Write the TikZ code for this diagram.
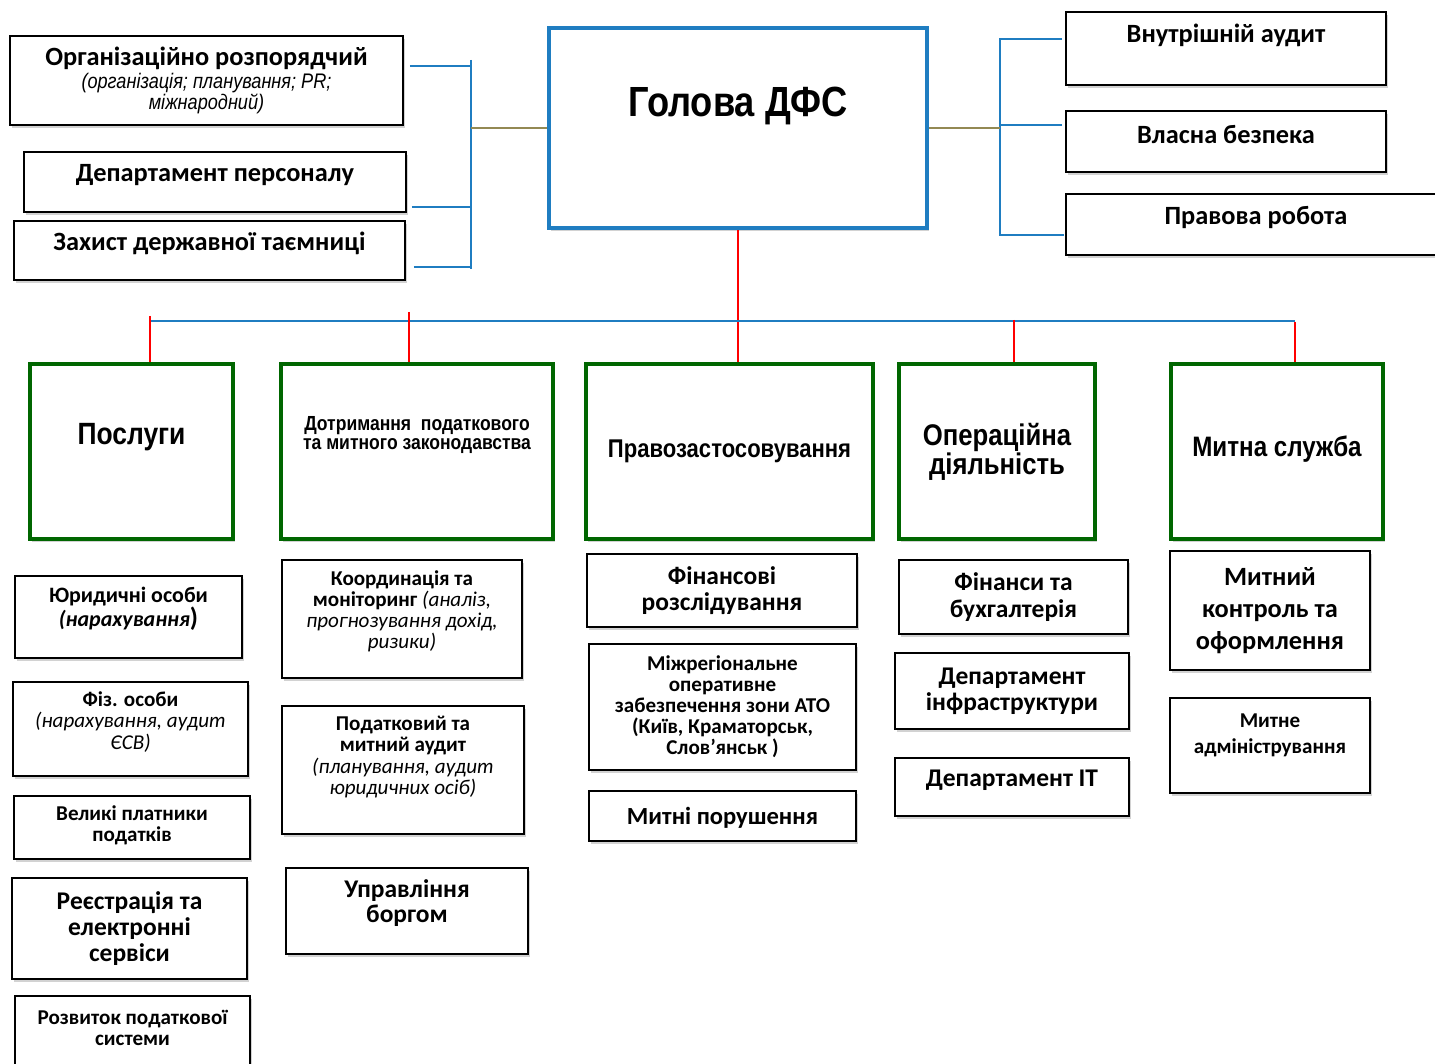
\documentclass[tikz,border=0pt]{standalone}
\usepackage{fontspec}
\setmainfont{Carlito}
\newfontfamily\narrow[FakeStretch=0.86]{Liberation Sans}
\usepackage{tikz}
\usetikzlibrary{shadows}
\definecolor{dfsblue}{RGB}{31,125,193}
\definecolor{dfsgreen}{RGB}{0,102,0}
\definecolor{linkolive}{RGB}{147,137,83}
\newcommand{\setsz}[2]{\fontsize{#1}{#2}\selectfont}
\newcommand{\detail}[1]{{\mdseries\itshape #1}}

\begin{document}
\begin{tikzpicture}
    \tikzset{
        softshadow/.style = {drop shadow={shadow xshift=1pt, shadow yshift=-1.8pt, opacity=0.35}},
        box/.style = {draw, line width=1.1pt, fill=white, softshadow},
        headbox/.style = {draw=dfsblue, line width=2.3pt, fill=white, softshadow},
        areabox/.style = {draw=dfsgreen, line width=2.3pt, fill=white, softshadow},
        bline/.style = {dfsblue, line width=1.2pt},
        rline/.style = {red, line width=1.2pt},
        oline/.style = {linkolive, line width=1.5pt},
        every label/.style = {align=center, anchor=center}
    }
    \path[use as bounding box, fill=white] (0, 0) rectangle (28.7, 21.26);

    % head
    \node[headbox, minimum width=7.56cm, minimum height=4cm, label={[yshift=0.44cm, font=\narrow\bfseries\setsz{24}{24}]center:Голова ДФС}] (head) at (14.76, 18.70) {};

    % left group
    \node[box, minimum width=7.86cm, minimum height=1.78cm, label={[font=\bfseries\setsz{15}{12}]center:Організаційно розпорядчий\\[1pt]\detail{\narrow\setsz{12}{12}(організація; планування; PR;}\\\detail{\narrow\setsz{12}{12}міжнародний)}}] (org) at (4.13, 19.65) {};
    \node[box, minimum width=7.64cm, minimum height=1.2cm, label={[yshift=0.14cm, font=\bfseries\setsz{15}{15}]center:Департамент персоналу}] (pers) at (4.30, 17.62) {};
    \node[box, minimum width=7.82cm, minimum height=1.18cm, label={[yshift=0.15cm, font=\bfseries\setsz{15}{15}]center:Захист державної таємниці}] (secret) at (4.19, 16.25) {};
    \coordinate (lbtop) at (9.42, 20.06);
    \coordinate (lbbot) at (9.42, 15.88);
    \draw[bline] (lbtop) -- (lbbot);
    \draw[bline] ([xshift=0.12cm, yshift=0.29cm]org.east) -| (lbtop);
    \draw[bline] ([xshift=0.10cm, yshift=-0.5cm]pers.east) -| (lbbot);
    \draw[bline] ([xshift=0.16cm, yshift=-0.33cm]secret.east) -| (lbbot);
    \draw[oline] (head.west) -- (head.west -| lbtop);

    % right group
    \node[box, minimum width=6.4cm, minimum height=1.46cm, label={[yshift=0.27cm, font=\bfseries\setsz{15}{15}]center:Внутрішній аудит}] (audit) at (24.52, 20.29) {};
    \node[box, minimum width=6.4cm, minimum height=1.22cm, label={[yshift=0.13cm, font=\bfseries\setsz{15}{15}]center:Власна безпека}] (security) at (24.52, 18.43) {};
    \node[box, minimum width=7.6cm, minimum height=1.22cm, label={[yshift=0.15cm, font=\bfseries\setsz{15}{15}]center:Правова робота}] (legal) at (25.12, 16.77) {};
    \coordinate (rbtop) at (20.0, 20.46);
    \coordinate (rbbot) at (20.0, 16.54);
    \draw[bline] (rbtop) -- (rbbot);
    \draw[bline] ([xshift=-0.06cm, yshift=0.19cm]audit.west) -| (rbtop);
    \draw[bline] ([xshift=-0.06cm, yshift=0.33cm]security.west) -| (rbtop);
    \draw[bline] ([xshift=-0.02cm, yshift=-0.21cm]legal.west) -| (rbbot);
    \draw[oline] (head.east) -- (head.east -| rbtop);

    % areas
    \node[areabox, minimum width=4.06cm, minimum height=3.5cm, label={[yshift=0.29cm, font=\narrow\bfseries\setsz{17.5}{17}]center:Послуги}] (serv) at (2.63, 12.23) {};
    \node[areabox, minimum width=5.44cm, minimum height=3.5cm, label={[yshift=0.33cm, font=\narrow\bfseries\setsz{11.6}{11.3}]center:Дотримання~ податкового\\та митного законодавства}] (comply) at (8.34, 12.23) {};
    \node[areabox, minimum width=5.74cm, minimum height=3.5cm, label={[font=\narrow\bfseries\setsz{14.6}{14.5}]center:Правозастосовування}] (enforce) at (14.59, 12.23) {};
    \node[areabox, minimum width=3.92cm, minimum height=3.5cm, label={[font=\narrow\bfseries\setsz{17}{16.4}]center:Операційна\\діяльність}] (ops) at (19.94, 12.23) {};
    \node[areabox, minimum width=4.24cm, minimum height=3.5cm, label={[yshift=0.04cm, font=\narrow\bfseries\setsz{16}{16}]center:Митна служба}] (customs) at (25.54, 12.23) {};

    \draw[rline] (head.south) -- (head.south |- enforce.north);
    \coordinate (busL) at (3.0, 14.84);
    \coordinate (busR) at (25.9, 14.84);
    \draw[bline] (busL) -- (busR);
    \foreach \n/\x/\t in {serv/3.0/14.94, comply/8.18/15.02, ops/20.28/14.86, customs/25.9/14.82} {
        \coordinate (tick) at (\x, \t);
        \draw[rline] (tick) -- (tick |- \n.north);
    }

    % services
    \node[box, minimum width=4.54cm, minimum height=1.64cm, label={[yshift=0.16cm, font=\bfseries\setsz{12.5}{13.6}]center:Юридичні особи\\\textit{(нарахування}{\setsz{15}{13.6})}}] (legalent) at (2.57, 8.92) {};
    \node[box, minimum width=4.7cm, minimum height=1.88cm, label={[yshift=0.14cm, font=\bfseries\setsz{12}{12}]center:Фіз. особи\\\detail{(нарахування, аудит}\\\detail{ЄСВ)}}] (persons) at (2.61, 6.68) {};
    \node[box, minimum width=4.72cm, minimum height=1.26cm, label={[yshift=0.04cm, font=\bfseries\setsz{12}{12}]center:Великі платники\\податків}] (large) at (2.64, 4.71) {};
    \node[box, minimum width=4.7cm, minimum height=2.02cm, label={[font=\bfseries\setsz{14.5}{14.7}]center:Реєстрація та\\електронні\\сервіси}] (register) at (2.59, 2.69) {};
    \node[box, minimum width=4.7cm, minimum height=1.6cm, label={[yshift=0.17cm, font=\bfseries\setsz{12}{12}]center:Розвиток податкової\\системи}] (develop) at (2.65, 0.54) {};

    % compliance
    \node[box, minimum width=4.8cm, minimum height=2.36cm, label={[yshift=0.15cm, font=\bfseries\setsz{12}{12}]center:Координація та\\моніторинг \detail{(аналіз,}\\\detail{прогнозування дохід,}\\\detail{ризики)}}] (coord) at (8.04, 8.88) {};
    \node[box, minimum width=4.84cm, minimum height=2.56cm, label={[yshift=0.26cm, font=\bfseries\setsz{12}{12}]center:Податковий та\\митний аудит\\\detail{(планування, аудит}\\\detail{юридичних осіб)}}] (taxaudit) at (8.06, 5.86) {};
    \node[box, minimum width=4.84cm, minimum height=1.72cm, label={[yshift=0.16cm, font=\bfseries\setsz{14.5}{14.7}]center:Управління\\боргом}] (debt) at (8.14, 3.04) {};

    % enforcement
    \node[box, minimum width=5.4cm, minimum height=1.46cm, label={[font=\bfseries\setsz{14.5}{14.7}]center:Фінансові\\розслідування}] (fininv) at (14.44, 9.45) {};
    \node[box, minimum width=5.34cm, minimum height=2.52cm, label={[font=\bfseries\setsz{12}{12}]center:Міжрегіональне\\оперативне\\забезпечення зони АТО\\(Київ, Краматорськ,\\Слов’янськ )}] (interreg) at (14.45, 7.12) {};
    \node[box, minimum width=5.34cm, minimum height=1.0cm, label={[yshift=-0.04cm, font=\bfseries\setsz{14}{14}]center:Митні порушення}] (violations) at (14.45, 4.94) {};

    % operations
    \node[box, minimum width=4.58cm, minimum height=1.48cm, label={[font=\bfseries\setsz{14.5}{15.3}]center:Фінанси та\\бухгалтерія}] (finance) at (20.27, 9.32) {};
    \node[box, minimum width=4.68cm, minimum height=1.52cm, label={[font=\bfseries\setsz{14.5}{14.7}]center:Департамент\\інфраструктури}] (infra) at (20.24, 7.44) {};
    \node[box, minimum width=4.68cm, minimum height=1.16cm, label={[yshift=0.14cm, font=\bfseries\setsz{14.5}{14.5}]center:Департамент IT}] (itdept) at (20.24, 5.52) {};

    % customs
    \node[box, minimum width=4.0cm, minimum height=2.38cm, label={[font=\bfseries\setsz{15}{18}]center:Митний\\контроль та\\оформлення}] (control) at (25.4, 9.05) {};
    \node[box, minimum width=4.0cm, minimum height=1.9cm, label={[yshift=0.21cm, font=\bfseries\setsz{12}{14.7}]center:Митне\\адміністрування}] (admin) at (25.4, 6.35) {};
\end{tikzpicture}
\end{document}
